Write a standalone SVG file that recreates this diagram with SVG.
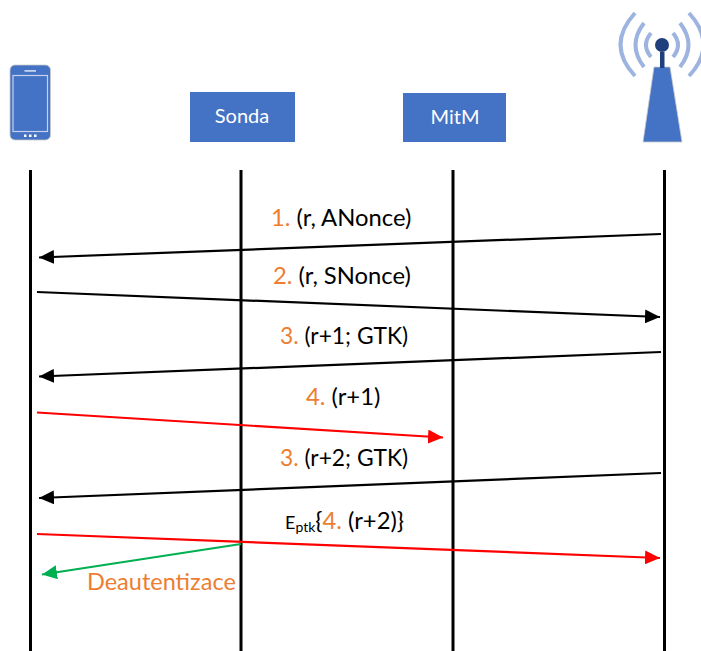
<svg xmlns="http://www.w3.org/2000/svg" width="701" height="651" viewBox="0 0 701 651">
<defs>
<marker id="ab" markerUnits="userSpaceOnUse" markerWidth="16" markerHeight="14" refX="15" refY="7" orient="auto"><path d="M0 0L15 7L0 14Z" fill="#000"/></marker>
<marker id="ar" markerUnits="userSpaceOnUse" markerWidth="16" markerHeight="14" refX="15" refY="7" orient="auto"><path d="M0 0L15 7L0 14Z" fill="#f00"/></marker>
<marker id="ag" markerUnits="userSpaceOnUse" markerWidth="16" markerHeight="14" refX="15" refY="7" orient="auto"><path d="M0 0L15 7L0 14Z" fill="#00b050"/></marker>
</defs>
<style>
text{font-family:"Lato","Open Sans",sans-serif;font-size:23.8px;fill:#000;text-anchor:start}
.o{fill:#ed7d31}
.d{font-size:23.500px}
.s{font-size:22.800px}
.box{fill:#4472c4}
.w{fill:#fff;font-size:20px;text-anchor:middle}
.life{stroke:#000;stroke-width:3;fill:none}
.m{stroke:#000;stroke-width:2.200;fill:none;marker-end:url(#ab)}
.r{stroke:#f00;stroke-width:2.200;fill:none;marker-end:url(#ar)}
.g{stroke:#00b050;stroke-width:2.200;fill:none;marker-end:url(#ag)}
.wave{stroke:#9db4e0;stroke-width:4;fill:none;stroke-linecap:butt}
</style>
<g id="phone">
<rect x="10" y="65" width="40.500" height="75" rx="5" fill="#4472c4" stroke="#c9c9c9" stroke-width="0.800"/>
<rect x="13" y="75.500" width="34.500" height="56" fill="none" stroke="#c5d3ee" stroke-width="1.200"/>
<rect x="24.500" y="70" width="11.500" height="1.800" fill="#c5d3ee"/>
<rect x="24" y="134.500" width="2.500" height="2.500" fill="#fff"/><rect x="29" y="134.500" width="2.500" height="2.500" fill="#fff"/><rect x="34" y="134.500" width="2.500" height="2.500" fill="#fff"/>
</g>
<g id="sonda">
<rect class="box" x="190" y="92" width="105" height="50"/>
<text class="w" x="242" y="123">Sonda</text>
</g>
<g id="mitm">
<rect class="box" x="403" y="93" width="103" height="49"/>
<text class="w" x="455" y="124">MitM</text>
</g>
<g id="tower">
<path d="M654 67L670 67L682 142L643 142Z" fill="#4472c4" stroke="#c9c9c9" stroke-width="0.800"/>
<rect x="660" y="52" width="4.500" height="16" fill="#203f7d"/>
<circle cx="662" cy="45" r="7" fill="#203f7d"/>
<path class="wave" d="M651 33Q641 45 651 57M673 33Q683 45 673 57"/>
<path class="wave" d="M644 23Q627 45 644 67M680 23Q697 45 680 67"/>
<path class="wave" d="M635 13Q606 45 635 76M689 13Q718 45 689 76"/>
</g>
<g id="connectors">
<path class="life" d="M30.500 170V651M241 170V651M453 170V651M664.500 170V651"/>
<path class="m" d="M661 234L39 257.500"/>
<path class="m" d="M37 292L660 317"/>
<path class="m" d="M661 352L39 376.500"/>
<path class="r" d="M37 412.500L443 437.500"/>
<path class="m" d="M661 473L39 498"/>
<path class="r" d="M37 534L660 558"/>
<path class="g" d="M241 544L42 574.500"/>
</g>
<g id="labels">
<text x="271" y="226"><tspan class="o">1.</tspan> (r, ANonce)</text>
<text x="273" y="284"><tspan class="o">2.</tspan> (r, SNonce)</text>
<text class="s" x="280" y="344"><tspan class="o">3.</tspan> (r+1; GTK)</text>
<text x="306" y="405"><tspan class="o">4.</tspan> (r+1)</text>
<text class="s" x="280" y="466"><tspan class="o">3.</tspan> (r+2; GTK)</text>
<text x="285" y="529"><tspan font-size="18">E</tspan><tspan font-size="14" dy="3">ptk</tspan><tspan dy="-3" font-size="24">{</tspan><tspan class="o">4.</tspan> (r+2)<tspan font-size="24">}</tspan></text>
<text class="o d" x="87" y="590">Deautentizace</text>
</g>
</svg>
